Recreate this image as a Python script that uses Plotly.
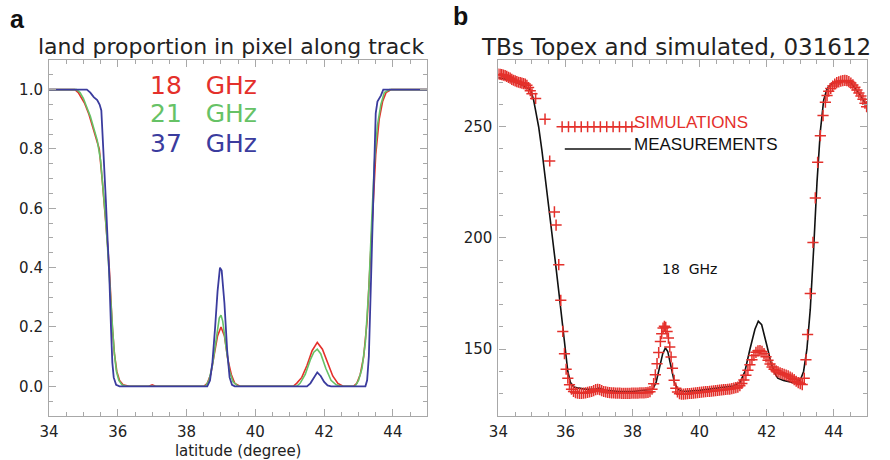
import plotly.graph_objects as go

# ---------------- Panel a: land proportion in pixel along track ----------------
lat_18 = [34.0, 34.75, 34.85, 35.03, 35.15, 35.27, 35.36, 35.46, 35.55, 35.62, 35.7, 35.75, 35.8, 35.84,
          35.9, 35.97, 36.05, 36.15, 36.33, 36.9, 37.0, 37.1, 38.5, 38.6, 38.7, 38.8, 38.9, 39.0, 39.1,
          39.2, 39.3, 39.4, 39.55, 41.1, 41.2, 41.35, 41.5, 41.65, 41.8, 41.95, 42.1, 42.25, 42.4, 42.55,
          42.85, 42.95, 43.05, 43.15, 43.25, 43.35, 43.42, 43.5, 43.6, 43.7, 43.8, 43.95, 45.0]
val_18 = [1.0, 1.0, 0.99, 0.955, 0.92, 0.875, 0.84, 0.80, 0.69, 0.60, 0.48, 0.40, 0.27, 0.20,
          0.11, 0.05, 0.02, 0.005, 0.0, 0.0, 0.005, 0.0, 0.0, 0.01, 0.04, 0.10, 0.17, 0.20, 0.17,
          0.09, 0.04, 0.01, 0.0, 0.0, 0.01, 0.03, 0.07, 0.12, 0.148, 0.125, 0.08, 0.035, 0.01, 0.0,
          0.0, 0.01, 0.04, 0.10, 0.22, 0.42, 0.60, 0.78, 0.90, 0.96, 0.99, 1.0, 1.0]

lat_21 = [34.0, 34.8, 34.9, 35.0, 35.1, 35.2, 35.3, 35.4, 35.5, 35.57, 35.64, 35.7, 35.75, 35.8,
          35.85, 35.9, 35.96, 36.03, 36.12, 36.25, 38.55, 38.65, 38.75, 38.85, 38.95, 39.0, 39.05,
          39.15, 39.25, 39.35, 39.5, 41.2, 41.3, 41.45, 41.6, 41.7, 41.8, 41.9, 42.05, 42.2, 42.35,
          42.5, 42.9, 43.0, 43.1, 43.2, 43.3, 43.38, 43.46, 43.55, 43.65, 43.75, 43.9, 45.0]
val_21 = [1.0, 1.0, 0.99, 0.97, 0.94, 0.91, 0.87, 0.83, 0.76, 0.67, 0.57, 0.47, 0.39, 0.28,
          0.19, 0.11, 0.05, 0.02, 0.005, 0.0, 0.0, 0.02, 0.07, 0.15, 0.23, 0.24, 0.22,
          0.13, 0.05, 0.015, 0.0, 0.0, 0.01, 0.04, 0.09, 0.115, 0.125, 0.11, 0.06, 0.02, 0.005,
          0.0, 0.0, 0.02, 0.06, 0.15, 0.33, 0.55, 0.75, 0.88, 0.95, 0.99, 1.0, 1.0]

lat_37 = [34.0, 35.1, 35.2, 35.3, 35.4, 35.47, 35.52, 35.56, 35.6, 35.65, 35.7, 35.75, 35.8, 35.84,
          35.88, 35.95, 36.05, 38.6, 38.68, 38.75, 38.83, 38.9, 38.97, 39.02, 39.1, 39.18, 39.25,
          39.32, 39.4, 41.5, 41.6, 41.7, 41.8, 41.9, 42.0, 42.1, 42.2, 43.2, 43.25, 43.3, 43.35,
          43.4, 43.45, 43.5, 43.55, 43.65, 43.72, 45.0]
val_37 = [1.0, 1.0, 0.99, 0.975, 0.965, 0.95, 0.93, 0.85, 0.75, 0.63, 0.50, 0.38, 0.20, 0.08,
          0.03, 0.005, 0.0, 0.0, 0.02, 0.08, 0.20, 0.32, 0.40, 0.39, 0.28, 0.12, 0.03,
          0.005, 0.0, 0.0, 0.01, 0.03, 0.047, 0.035, 0.015, 0.003, 0.0, 0.0, 0.02, 0.10, 0.30,
          0.55, 0.78, 0.92, 0.96, 0.98, 1.0, 1.0]

# ---------------- Panel b: TBs Topex and simulated ----------------
meas_lat = [34.0, 34.2, 34.4, 34.6, 34.8, 34.9, 34.97, 35.05, 35.1, 35.2, 35.3, 35.4, 35.5, 35.6,
            35.7, 35.8, 35.9, 36.0, 36.07, 36.15, 36.25, 36.4, 36.6, 36.9, 37.0, 37.2, 37.6, 38.0,
            38.4, 38.6, 38.7, 38.8, 38.9, 38.98, 39.05, 39.15, 39.25, 39.35, 39.5, 40.0, 40.5,
            41.0, 41.2, 41.35, 41.5, 41.65, 41.75, 41.85, 42.0, 42.13, 42.25, 42.33, 42.5, 42.8,
            43.0, 43.1, 43.2, 43.3, 43.4, 43.5, 43.6, 43.7, 43.8, 43.95, 44.1, 44.3, 44.5, 44.6,
            44.8, 45.0]
meas_val = [272.0, 271.5, 270.5, 269.5, 268.0, 267.2, 266.2, 262.0, 258.0, 250.0, 239.0, 227.0,
            214.0, 201.0, 189.0, 176.0, 162.0, 149.0, 140.0, 135.0, 133.0, 132.5, 132.0, 132.0,
            132.5, 131.5, 131.0, 131.0, 131.5, 132.0, 135.0, 141.0, 148.0, 150.6, 149.0, 142.0,
            135.0, 132.0, 131.0, 131.5, 132.5, 133.5, 135.0, 140.0, 150.0, 159.0, 162.6, 161.0,
            152.0, 143.8, 139.0, 137.0, 136.0, 135.0, 136.0, 140.0, 150.0, 168.0, 195.0, 225.0,
            248.0, 262.0, 267.0, 269.5, 270.0, 270.5, 270.0, 268.0, 264.0, 259.0]

sim_lat = [34.00, 34.05, 34.10, 34.15, 34.20, 34.25, 34.30, 34.35, 34.40, 34.45, 34.50, 34.55,
           34.60, 34.65, 34.70, 34.75, 34.80, 34.85, 34.90, 34.95, 35.00, 35.11, 35.39, 35.53,
           35.67, 35.72, 35.80, 35.86, 35.92, 35.97, 36.02, 36.07, 36.12, 36.18, 36.24, 36.30,
           36.36, 36.42, 36.48, 36.54, 36.60, 36.66, 36.72, 36.78, 36.84, 36.90, 36.96, 37.02,
           37.08, 37.14, 37.20, 37.26, 37.32, 37.38, 37.44, 37.50, 37.56, 37.62, 37.68, 37.74,
           37.80, 37.86, 37.92, 37.98, 38.04, 38.10, 38.16, 38.22, 38.28, 38.34, 38.40, 38.46,
           38.52, 38.58, 38.63, 38.68, 38.73, 38.78, 38.83, 38.87, 38.91, 38.95, 38.99, 39.03,
           39.07, 39.11, 39.15, 39.19, 39.24, 39.29, 39.34, 39.40, 39.46, 39.52, 39.58, 39.64,
           39.70, 39.76, 39.82, 39.88, 39.94, 40.00, 40.06, 40.12, 40.18, 40.24, 40.30, 40.36,
           40.42, 40.48, 40.54, 40.60, 40.66, 40.72, 40.78, 40.84, 40.90, 40.96, 41.02, 41.08,
           41.14, 41.20, 41.26, 41.32, 41.38, 41.44, 41.50, 41.56, 41.62, 41.68, 41.74, 41.80,
           41.86, 41.92, 41.98, 42.04, 42.10, 42.16, 42.22, 42.28, 42.34, 42.40, 42.46, 42.52,
           42.58, 42.64, 42.70, 42.76, 42.82, 42.88, 42.94, 43.00, 43.06, 43.12, 43.17, 43.22,
           43.30, 43.38, 43.45, 43.52, 43.60, 43.68, 43.75, 43.80, 43.85, 43.91, 43.97, 44.03,
           44.09, 44.15, 44.21, 44.27, 44.33, 44.39, 44.45, 44.51, 44.57, 44.63, 44.69, 44.75,
           44.81, 44.87, 44.93, 44.98]
sim_val = [273.7, 273.5, 273.4, 273.2, 273.0, 272.6, 272.2, 271.8, 271.3, 270.9, 270.6, 270.3,
           270.0, 269.8, 269.6, 269.4, 269.2, 268.6, 267.6, 266.2, 264.8, 262.7, 253.4, 234.6,
           211.7, 205.8, 188.0, 172.0, 158.0, 148.0, 141.0, 137.0, 134.0, 132.0, 131.0, 130.5,
           130.3, 130.2, 130.2, 130.3, 130.4, 130.6, 130.8, 131.0, 131.4, 131.8, 132.0, 131.8,
           131.4, 131.0, 130.8, 130.6, 130.5, 130.4, 130.4, 130.3, 130.3, 130.3, 130.2, 130.2,
           130.2, 130.2, 130.2, 130.3, 130.3, 130.3, 130.3, 130.4, 130.4, 130.4, 130.5, 130.6,
           130.9, 132.0, 134.5, 138.5, 143.5, 148.5, 153.5, 157.0, 159.5, 160.3, 159.8, 158.0,
           155.0, 151.0, 146.5, 141.5, 136.0, 132.5, 130.8, 130.0, 129.8, 129.8, 129.9, 130.0,
           130.1, 130.2, 130.3, 130.4, 130.5, 130.6, 130.7, 130.8, 130.9, 131.0, 131.1, 131.2,
           131.3, 131.4, 131.5, 131.6, 131.7, 131.8, 131.9, 132.0, 132.1, 132.3, 132.5, 132.7,
           133.0, 133.6, 134.6, 136.2, 138.3, 140.6, 143.0, 145.3, 147.2, 148.6, 149.3, 149.4,
           149.0, 148.0, 146.6, 145.0, 143.4, 142.0, 141.0, 140.3, 139.8, 139.4, 139.0, 138.7,
           138.4, 138.0, 137.5, 137.0, 136.3, 135.6, 135.0, 134.5, 134.1, 137.0, 145.3, 156.6,
           175.0, 198.0, 218.0, 234.0, 246.0, 255.0, 261.0, 264.0, 266.0, 267.2, 268.3, 269.2,
           269.8, 270.2, 270.5, 270.7, 270.8, 270.7, 270.3, 269.6, 268.8, 267.7, 266.5, 265.2,
           263.8, 262.3, 260.6, 259.0]

# legend-key samples (drawn in data space, like the original IDL legend)
sim_key_lat = [35.90, 36.09, 36.28, 36.47, 36.66, 36.85, 37.04, 37.23, 37.42, 37.61, 37.80, 37.98]
sim_key_val = [250.0] * len(sim_key_lat)
meas_key_lat = [35.98, 37.95]
meas_key_val = [240.0, 240.0]

RED = "#e4302b"
GREEN = "#66c266"
BLUE = "#3b3c9e"
AXC = "#a8a8a8"
TXT = "#222222"

fig = go.Figure()
fig.add_trace(go.Scatter(x=lat_18, y=val_18, mode="lines", line=dict(color=RED, width=1.6),
                         xaxis="x", yaxis="y", showlegend=False))
fig.add_trace(go.Scatter(x=lat_21, y=val_21, mode="lines", line=dict(color=GREEN, width=1.6),
                         xaxis="x", yaxis="y", showlegend=False))
fig.add_trace(go.Scatter(x=lat_37, y=val_37, mode="lines", line=dict(color=BLUE, width=1.8),
                         xaxis="x", yaxis="y", showlegend=False))

fig.add_trace(go.Scatter(x=meas_lat, y=meas_val, mode="lines", line=dict(color="#111111", width=1.6),
                         xaxis="x2", yaxis="y2", showlegend=False))
fig.add_trace(go.Scatter(x=sim_lat, y=sim_val, mode="markers",
                         marker=dict(symbol="cross-thin-open", size=8, color=RED,
                                     line=dict(color=RED, width=1.5)),
                         xaxis="x2", yaxis="y2", showlegend=False))
fig.add_trace(go.Scatter(x=sim_key_lat, y=sim_key_val, mode="lines+markers",
                         line=dict(color=RED, width=1.2),
                         marker=dict(symbol="cross-thin-open", size=8, color=RED,
                                     line=dict(color=RED, width=1.5)),
                         xaxis="x2", yaxis="y2", showlegend=False))
fig.add_trace(go.Scatter(x=meas_key_lat, y=meas_key_val, mode="lines", line=dict(color="#111111", width=1.6),
                         xaxis="x2", yaxis="y2", showlegend=False))

axis_common = dict(showline=True, linecolor=AXC, linewidth=1.2, mirror="allticks", ticks="inside",
                   tickcolor=AXC, tickwidth=1.2, ticklen=7, showgrid=False, zeroline=False,
                   tickfont=dict(family="DejaVu Sans", size=15, color=TXT), ticklabelstandoff=2)

fig.update_layout(
    width=890, height=460, margin=dict(l=0, r=0, t=0, b=0),
    paper_bgcolor="white", plot_bgcolor="white",
    xaxis=dict(domain=[0.0444, 0.4742], range=[34, 45], dtick=2, tick0=34, anchor="y",
               minor=dict(dtick=0.5, ticks="inside", ticklen=4, tickcolor=AXC, showgrid=False),
               title=dict(text="latitude (degree)", standoff=7,
                          font=dict(family="DejaVu Sans", size=15, color=TXT)),
               **axis_common),
    yaxis=dict(domain=[0.0957, 0.8696], range=[-0.1, 1.1], dtick=0.2, tick0=0, tickformat=".1f",
               anchor="x",
               minor=dict(dtick=0.05, ticks="inside", ticklen=4, tickcolor=AXC, showgrid=False),
               **axis_common),
    xaxis2=dict(domain=[0.555, 0.9742], range=[34, 45], dtick=2, tick0=34, anchor="y2",
                minor=dict(dtick=0.5, ticks="inside", ticklen=4, tickcolor=AXC, showgrid=False),
                **axis_common),
    yaxis2=dict(domain=[0.0957, 0.8696], range=[120, 280], dtick=50, tick0=150, anchor="x2",
                minor=dict(dtick=10, ticks="inside", ticklen=4, tickcolor=AXC, showgrid=False),
                **axis_common),
)

ann = [
    dict(text="<b>a</b>", x=0.0, y=1.0, xref="paper", yref="paper", xanchor="left", yanchor="top",
         xshift=-2, yshift=-3, showarrow=False, font=dict(family="Liberation Sans", size=25, color="#111")),
    dict(text="<b>b</b>", x=0.505, y=1.0, xref="paper", yref="paper", xanchor="left", yanchor="top",
         xshift=-3, yshift=0, showarrow=False, font=dict(family="Liberation Sans", size=25, color="#111")),
    dict(text="land proportion in pixel along track", x=224 / 890, y=1 - 47 / 460, xref="paper",
         yref="paper", xanchor="center", yanchor="middle", showarrow=False,
         font=dict(family="DejaVu Sans", size=22, color=TXT)),
    dict(text="TBs Topex and simulated, 031612", x=674 / 890, y=1 - 47 / 460, xref="paper",
         yref="paper", xanchor="center", yanchor="middle", showarrow=False,
         font=dict(family="DejaVu Sans", size=23, color=TXT)),
    dict(text="18   GHz", x=38.5, y=1.015, xref="x", yref="y", showarrow=False,
         font=dict(family="DejaVu Sans", size=25, color=RED)),
    dict(text="21   GHz", x=38.5, y=0.92, xref="x", yref="y", showarrow=False,
         font=dict(family="DejaVu Sans", size=25, color=GREEN)),
    dict(text="37   GHz", x=38.5, y=0.82, xref="x", yref="y", showarrow=False,
         font=dict(family="DejaVu Sans", size=25, color=BLUE)),
    dict(text="SIMULATIONS", x=38.07, y=252, xref="x2", yref="y2", xanchor="left", showarrow=False,
         xshift=-3, font=dict(family="Liberation Sans", size=17, color=RED)),
    dict(text="MEASUREMENTS", x=38.07, y=242, xref="x2", yref="y2", xanchor="left", showarrow=False,
         xshift=-3, font=dict(family="Liberation Sans", size=17, color="#111")),
    dict(text="18  GHz", x=39.7, y=186, xref="x2", yref="y2", showarrow=False,
         font=dict(family="DejaVu Sans", size=14, color="#111")),
]
fig.update_layout(annotations=ann)

fig.write_html("out.html", config={"displayModeBar": False},
               post_script="document.body.style.margin='0px';")
